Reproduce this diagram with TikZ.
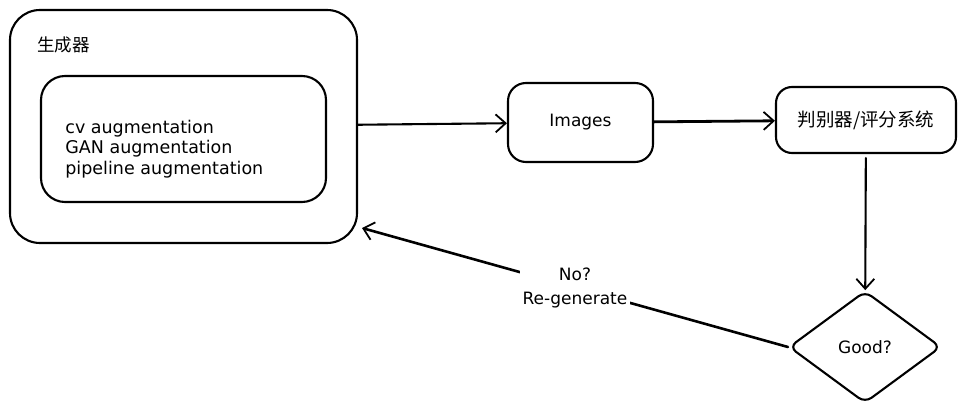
\documentclass[tikz,border=0pt]{standalone}
\usepackage{fontspec}
\setmainfont{DejaVu Sans}
\newfontfamily\cjk{Noto Sans CJK SC}
\usetikzlibrary{shapes.geometric,arrows.meta}
\begin{document}
\begin{tikzpicture}
    [x=1pt, y=-1pt, line width=2.1pt, line join=round, line cap=round,
     every node/.style={font=\fontsize{17}{20.5}\selectfont},
     box/.style={draw, rounded corners=24pt, inner sep=0pt},
     arr/.style={-{Straight Barb[length=10pt,width=18pt,line width=1.8pt]}}]
    \useasboundingbox (0,0) rectangle (963,414);
    %		\node (n0){...};
    \node[box, rounded corners=30pt, minimum width=347pt, minimum height=233pt] (gen) at (183.5,126.5){};
    \node[anchor=west, font=\cjk\fontsize{17.5}{20}\selectfont] (gentitle) at (33,45){生成器};
    \node[box, minimum width=285pt, minimum height=126pt] (aug) at (183.5,139){};
    \node[anchor=west, align=left, font=\fontsize{17.5}{20.5}\selectfont] (augtext) at (61,149){cv augmentation\\GAN augmentation\\pipeline augmentation};
    \node[box, rounded corners=18pt, minimum width=145pt, minimum height=79pt] (img) at (580.5,122.5){Images};
    \node[box, rounded corners=16pt, minimum width=180pt, minimum height=66pt, font=\cjk\fontsize{18.5}{20}\selectfont] (judge) at (866,120){判别器/评分系统};
    \node[draw, diamond, rounded corners=8pt, inner sep=0pt, minimum width=152pt, minimum height=112pt] (good) at (865,347){Good?};
    \coordinate (back) at (362,228);
    \draw[arr] (gen) to (img);
    \draw[arr, line width=2.8pt] (img) to (judge);
    \draw[arr, shorten <=4pt] (judge) to (good);
    \draw[arr, line width=2.6pt] (good.west) to node[fill=white, align=center, inner sep=3pt, font=\fontsize{17}{24}\selectfont]{No?\\Re-generate} (back);
\end{tikzpicture}
\end{document}
